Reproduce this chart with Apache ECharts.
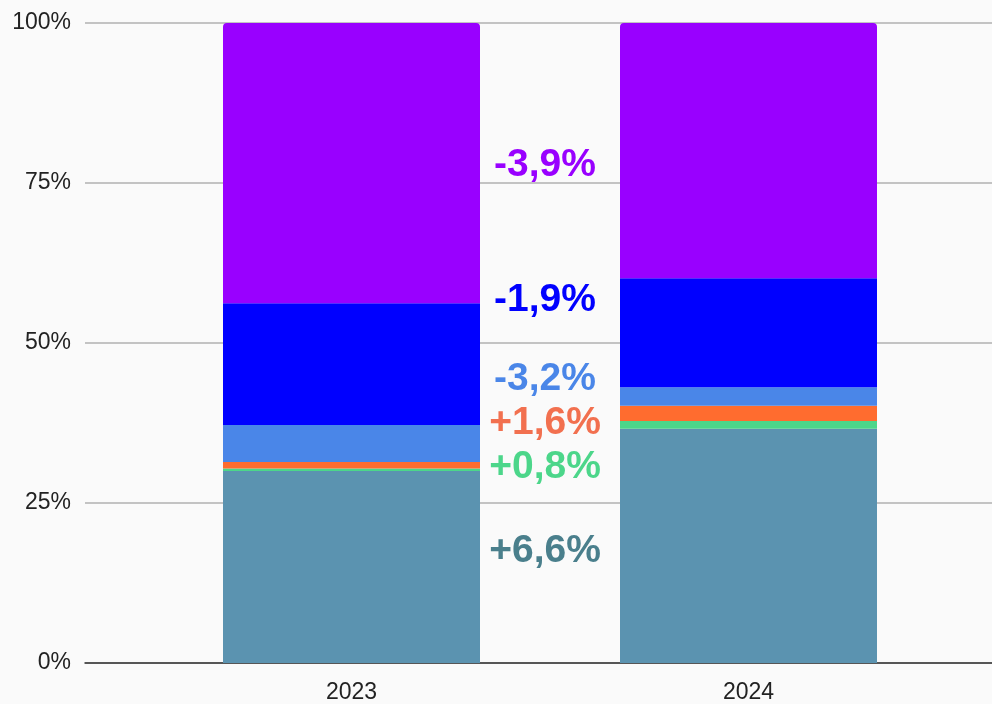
<!DOCTYPE html>
<html>
<head>
<meta charset="utf-8">
<script src="https://cdn.jsdelivr.net/npm/echarts@6/dist/echarts.min.js"></script>
<style>
  html, body { margin: 0; padding: 0; background: #fafafa; }
  #main { width: 992px; height: 704px; }
</style>
</head>
<body>
<div id="main"></div>
<script>
// categories and values (share in %)
var years = ['2023', '2024'];

var tealData   = [30.0, 36.6];
var greenData  = [0.4, 1.2];
var orangeData = [1.0, 2.4];
var lblueData  = [5.8, 2.9];
var blueData   = [19.0, 17.0];
var purpleData = [43.8, 39.9];

// change labels between the bars
var changeLabels = ['-3,9%', '-1,9%', '-3,2%', '+1,6%', '+0,8%', '+6,6%'];
var changeColors = ['#9900ff', '#0000ff', '#4a86e8', '#f2704f', '#4cd68a', '#4a7f8c'];
var changeY = [165, 300, 379, 423, 467, 551];

var myChart = echarts.init(document.getElementById('main'));

var segs = [
    {name: 'teal', data: tealData, color: '#5b93b0'},
    {name: 'green', data: greenData, color: '#4cd68a'},
    {name: 'orange', data: orangeData, color: '#ff6c2f'},
    {name: 'lightblue', data: lblueData, color: '#4a86e8'},
    {name: 'blue', data: blueData, color: '#0000ff'},
    {name: 'purple', data: purpleData, color: '#9900ff'}
];

var series = segs.map(function (s, i) {
    return {
        name: s.name,
        type: 'bar',
        stack: 'total',
        xAxisIndex: 1,
        yAxisIndex: 1,
        barWidth: 257,
        data: s.data,
        itemStyle: {
            color: s.color,
            borderRadius: i === segs.length - 1 ? [4, 4, 0, 0] : 0
        }
    };
});

var graphics = changeLabels.map(function (t, i) {
    return {
        type: 'text',
        x: 545,
        y: changeY[i],
        style: {
            text: t,
            fill: changeColors[i],
            font: 'bold 39px "Liberation Sans", Arial, sans-serif',
            textAlign: 'center',
            textVerticalAlign: 'middle'
        },
        z: 10
    };
});

var option = {
    backgroundColor: '#fafafa',
    animation: false,
    grid: [
        {left: 85, right: 0, top: 23, bottom: 41},
        {left: 153, right: 45, top: 23, bottom: 41}
    ],
    xAxis: [
        {
            type: 'value',
            gridIndex: 0,
            min: 0,
            max: 1,
            axisLine: {show: true, lineStyle: {color: '#333', width: 1.5}},
            axisTick: {show: false},
            axisLabel: {show: false},
            splitLine: {show: false}
        },
        {
            type: 'category',
            gridIndex: 1,
            data: years,
            axisLine: {show: false},
            axisTick: {show: false},
            axisLabel: {
                color: '#222',
                fontSize: 23,
                fontFamily: '"Liberation Sans", Arial, sans-serif',
                margin: 18
            }
        }
    ],
    yAxis: [
        {
            type: 'value',
            gridIndex: 0,
            min: 0,
            max: 100,
            interval: 25,
            axisLine: {show: false},
            axisTick: {show: false},
            axisLabel: {
                color: '#222',
                fontSize: 23,
                fontFamily: '"Liberation Sans", Arial, sans-serif',
                margin: 14,
                formatter: '{value}%'
            },
            splitLine: {lineStyle: {color: '#b0b0b0', width: 1.5}}
        },
        {
            type: 'value',
            gridIndex: 1,
            min: 0,
            max: 100,
            show: false
        }
    ],
    series: series,
    graphic: graphics
};
myChart.setOption(option);
</script>
</body>
</html>
